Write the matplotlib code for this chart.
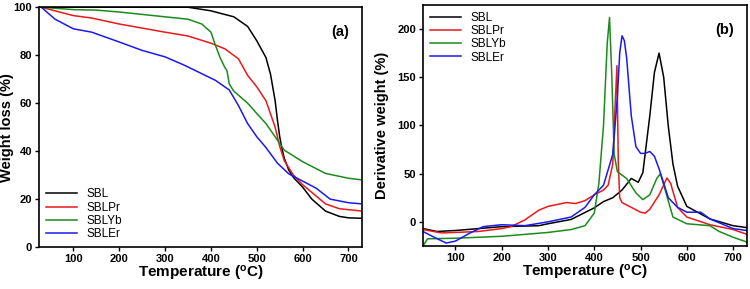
import matplotlib
matplotlib.use("Agg")
import matplotlib.pyplot as plt

plt.rcParams["font.family"] = ["Liberation Sans", "DejaVu Sans"]
plt.rcParams["mathtext.default"] = "regular"

names = ["SBL", "SBLPr", "SBLYb", "SBLEr"]
colors = ["black", "#e8191b", "#1c8a1c", "#1a1aee"]

# (a) TGA curves
tga_sbl_t = [30, 100, 200, 300, 350, 400, 450, 480, 500, 520, 530, 540, 545, 550, 555, 560, 570, 580, 600, 620, 650, 680, 700, 730]
tga_sbl_w = [100, 100, 100, 100, 100, 98.5, 96, 92, 86, 79, 72, 61, 53, 46, 41, 37, 32, 29, 25, 20, 15, 12.8, 12.2, 12]

tga_pr_t = [30, 60, 100, 140, 200, 300, 350, 400, 430, 460, 480, 500, 520, 540, 550, 560, 580, 600, 650, 680, 730]
tga_pr_w = [100, 98.5, 96.5, 95.5, 93, 89.6, 88, 85, 82.7, 78.5, 71.6, 66.8, 61, 50, 42, 36, 30, 26, 18, 16, 15]

tga_yb_t = [30, 100, 150, 200, 250, 300, 350, 380, 400, 410, 420, 430, 435, 440, 450, 480, 500, 520, 540, 560, 600, 650, 700, 730]
tga_yb_w = [100, 99, 98.8, 98, 97, 96, 95, 93, 89.6, 84, 79, 75, 73.5, 68, 65, 60, 55.7, 51.5, 46, 40.4, 35.6, 30.7, 28.7, 28]

tga_er_t = [30, 60, 100, 140, 200, 250, 300, 340, 380, 410, 440, 460, 480, 500, 520, 545, 570, 600, 630, 660, 700, 730]
tga_er_w = [100, 95, 91, 89.6, 85.5, 82, 79.3, 76, 72.3, 69.5, 65.5, 59, 51.5, 46, 41.5, 35, 30.5, 27.5, 24.5, 20, 18.5, 18]

# (b) DTG curves
dtg_sbl_t = [30, 60, 100, 200, 280, 300, 350, 400, 420, 440, 460, 480, 495, 505, 520, 530, 540, 550, 560, 570, 580, 600, 650, 700, 730]
dtg_sbl_d = [-7, -10, -9, -5, -4, -2, 2.5, 14.5, 21, 25, 33, 45, 41, 51, 110, 155, 175, 150, 99, 60, 37, 16, 3, -4, -6]

dtg_pr_t = [30, 70, 100, 150, 200, 220, 250, 280, 300, 340, 360, 380, 400, 420, 430, 440, 445, 449, 452, 455, 460, 480, 500, 510, 520, 540, 557, 565, 580, 600, 650, 700, 730]
dtg_pr_d = [-8, -11.5, -11, -10, -7, -5, 2, 12, 16, 20, 19, 22, 28, 33, 38, 60, 120, 162, 60, 25, 20, 15, 10, 9, 13, 28, 45.5, 40, 15, 5, -3, -8, -13]

dtg_yb_t = [30, 40, 100, 200, 300, 350, 380, 400, 410, 420, 428, 433, 438, 443, 450, 470, 490, 505, 520, 535, 543, 555, 570, 600, 650, 670, 700, 730]
dtg_yb_d = [-25, -17.6, -17, -15, -11, -8, -4, 9, 40, 100, 185, 212, 150, 70, 52, 45, 30, 23, 28, 45, 50, 30, 5, -2, -4, -10, -16, -21]

dtg_er_t = [30, 50, 80, 100, 130, 160, 200, 250, 300, 350, 380, 400, 420, 440, 450, 455, 460, 465, 470, 480, 490, 500, 510, 520, 530, 540, 550, 560, 580, 600, 630, 650, 700, 730]
dtg_er_d = [-10, -15, -22, -20, -12, -5, -3, -4, 0, 5, 15, 28, 38, 70, 130, 175, 193, 188, 170, 110, 78, 71, 71, 73, 68, 55, 40, 25, 15, 10, 10, 3, -7, -9]

tga = [(tga_sbl_t, tga_sbl_w), (tga_pr_t, tga_pr_w), (tga_yb_t, tga_yb_w), (tga_er_t, tga_er_w)]
dtg = [(dtg_sbl_t, dtg_sbl_d), (dtg_pr_t, dtg_pr_d), (dtg_yb_t, dtg_yb_d), (dtg_er_t, dtg_er_d)]

fig = plt.figure(figsize=(7.5, 2.89), dpi=100)
ax1 = fig.add_axes([0.052, 0.145, 0.431, 0.830])
ax2 = fig.add_axes([0.564, 0.149, 0.432, 0.834])

for (t, w), n, c in zip(tga, names, colors):
    ax1.plot(t, w, color=c, lw=1.1, label=n)
for (t, d), n, c in zip(dtg, names, colors):
    ax2.plot(t, d, color=c, lw=1.1, label=n)

ax1.set_xlim(25, 730)
ax1.set_ylim(0, 100)
ax1.set_yticks([0, 20, 40, 60, 80, 100])
ax1.set_ylabel("Weight loss (%)", fontsize=10.5, fontweight="bold")
ax1.yaxis.set_label_coords(-0.076, 0.5)
ax1.text(0.96, 0.88, "(a)", transform=ax1.transAxes, ha="right", fontsize=10.5, fontweight="bold")
ax1.legend(loc="lower left", frameon=False, fontsize=8.5, handlelength=2.6,
           labelspacing=0.1, borderaxespad=0.2, bbox_to_anchor=(0.0, 0.0))

ax2.set_xlim(30, 730)
ax2.set_ylim(-25, 225)
ax2.set_yticks([0, 50, 100, 150, 200])
ax2.set_ylabel("Derivative weight (%)", fontsize=10.5, fontweight="bold")
ax2.yaxis.set_label_coords(-0.105, 0.5)
ax2.text(0.96, 0.88, "(b)", transform=ax2.transAxes, ha="right", fontsize=10.5, fontweight="bold")
ax2.legend(loc="upper left", frameon=False, fontsize=8.5, handlelength=2.6,
           labelspacing=0.1, borderaxespad=0.2)

for ax in (ax1, ax2):
    ax.set_xticks([100, 200, 300, 400, 500, 600, 700])
    ax.set_xlabel("Temperature ($^{o}$C)", fontsize=11, fontweight="bold", labelpad=0)
    ax.tick_params(labelsize=8, length=3, width=1.0, pad=2)
    for lab in ax.get_xticklabels() + ax.get_yticklabels():
        lab.set_fontweight("bold")
    for s in ax.spines.values():
        s.set_linewidth(1.2)

fig.savefig("out.png", dpi=100)
